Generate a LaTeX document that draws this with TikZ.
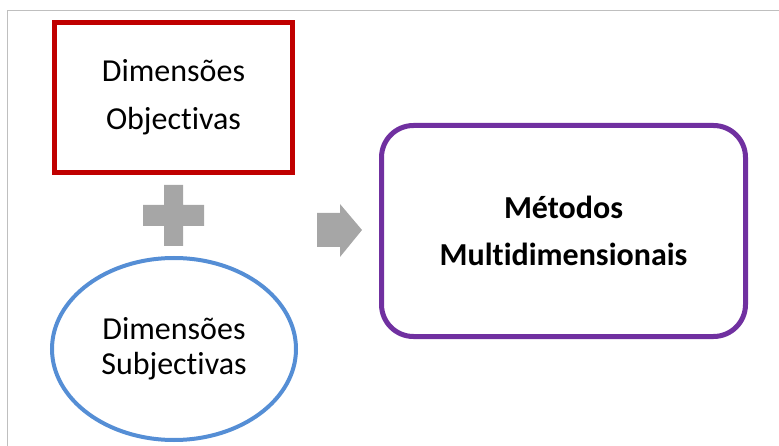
\documentclass[tikz,border=0pt]{standalone}
\usepackage{fontspec}
\setmainfont{Carlito}[Ligatures=NoCommon]
\usetikzlibrary{positioning,shapes.geometric}

\definecolor{boxred}{HTML}{C00000}
\definecolor{ellblue}{HTML}{558ED5}
\definecolor{boxpurple}{HTML}{7030A0}
\definecolor{signgray}{HTML}{A6A6A6}
\definecolor{framegray}{HTML}{BFBFBF}

\tikzset{
	bigtext/.style={font=\fontsize{32}{48}\selectfont, align=center, inner sep=0pt},
	objbox/.style={bigtext, draw=boxred, line width=5pt, minimum width=238pt, minimum height=150pt},
	subjell/.style={bigtext, ellipse, draw=ellblue, line width=4pt, minimum width=244pt, minimum height=182pt,
		font=\fontsize{32}{35}\selectfont},
	methbox/.style={bigtext, draw=boxpurple, line width=5pt, rounded corners=32pt, minimum width=364pt, minimum height=211pt,
		font=\fontsize{32}{47}\bfseries\selectfont}
}

\begin{document}
\begin{tikzpicture}[x=1pt, y=-1pt]
	\useasboundingbox (0,0) rectangle (779,446);
	% frame
	\draw [framegray, line width=1pt] (7,446) -- (7,11) -- (779,11);
	
	\node [objbox] (obj) at (173.5,97.5) {Dimensões\\Objectivas};
	\node [subjell] (subj) at (174,349) {Dimensões\\Subjectivas};
	\node [methbox] (meth) at (563.5,231) {Métodos\\Multidimensionais};
	
	% plus
	\fill [signgray] (164,185) -- (183,185) -- (183,205) -- (204,205) -- (204,226) -- (183,226)
	-- (183,246) -- (164,246) -- (164,226) -- (143,226) -- (143,205) -- (164,205) -- cycle;
	
	% arrow
	\fill [signgray] (317,213) -- (340,213) -- (340,204) -- (362,230) -- (340,257) -- (340,247)
	-- (317,247) -- cycle;
\end{tikzpicture}
\end{document}
